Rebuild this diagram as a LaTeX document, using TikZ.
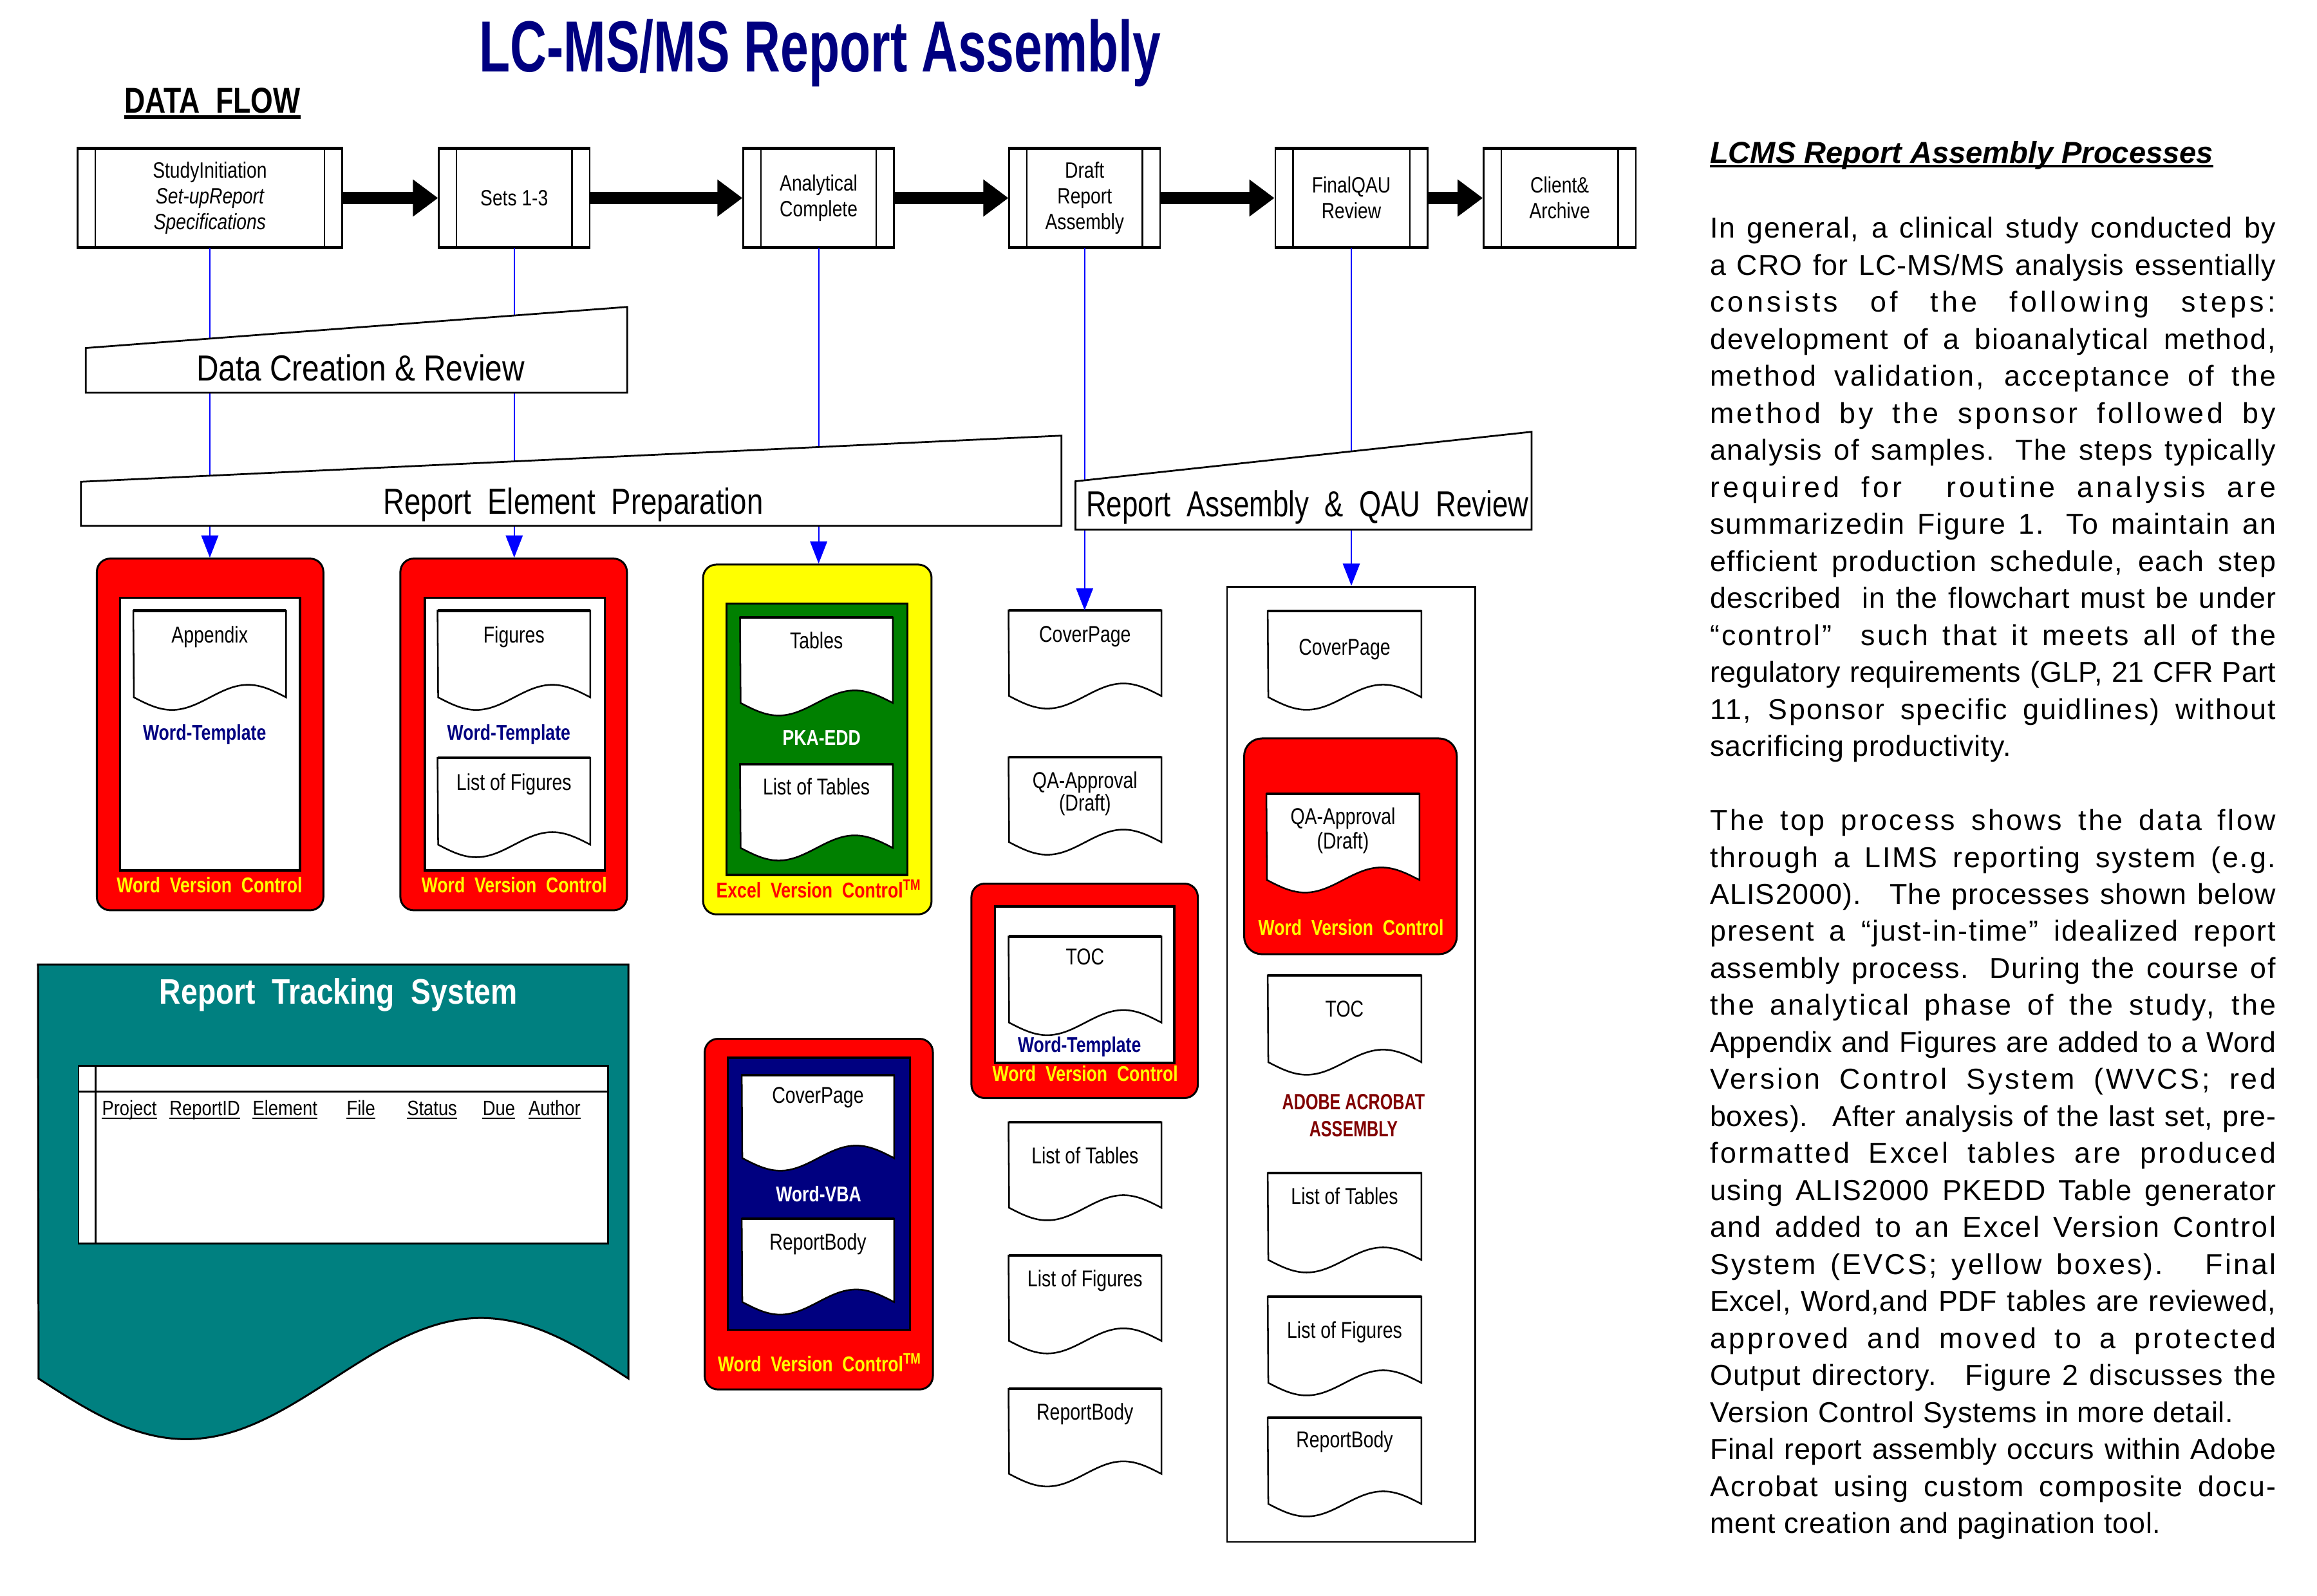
\documentclass[tikz,border=0pt]{standalone}
\usepackage{fontspec}
\setmainfont{Liberation Sans}
\usepackage{graphicx}
\usetikzlibrary{arrows.meta,calc}
\definecolor{navyc}{HTML}{000080}
\definecolor{tealc}{HTML}{008080}
\definecolor{dredc}{HTML}{800000}
\definecolor{dgreenc}{HTML}{008000}
\definecolor{bluec}{HTML}{0000FF}
\definecolor{redc}{HTML}{FF0000}
\definecolor{yellowc}{HTML}{FFFF00}
\newcommand\sqz[2]{\scalebox{#1}[1]{#2}}
\newcommand\fsz[2]{\fontsize{#1}{#2}\selectfont}
\newlength\lwA
\newlength\lwB
\newcommand\jline[1]{%
  \settowidth\lwA{#1}%
  \settowidth\lwB{\addfontfeature{LetterSpace=10}#1}%
  \pgfmathsetmacro\lsv{max(0,min(12,0.65*(\linewidth-\lwA)*10/(\lwB-\lwA)))}%
  \makebox[\linewidth][s]{\addfontfeature{LetterSpace=\lsv}#1}}
\newcommand\lastl[1]{\makebox[\linewidth][l]{\addfontfeature{LetterSpace=2}#1}}
\newcommand\procnode[4]{%
  \node[procbox, minimum width=#3pt] (#1) at (#2,134) {#4};
  \draw[line width=1.1pt] ([xshift=12.5pt]#1.north west) -- ([xshift=12.5pt]#1.south west);
  \draw[line width=1.1pt] ([xshift=-12.5pt]#1.north east) -- ([xshift=-12.5pt]#1.south east);
  \draw[line width=2.2pt] (#1.north west) -- (#1.north east);
  \draw[line width=2.2pt] (#1.south west) -- (#1.south east);
}
% name, cx, top, w, h, amp, baseline offset, text
\newcommand\mkdoc[8]{%
  \node[docnode, minimum width=#4pt, minimum height=#5pt, anchor=north] (#1) at (#2,#3) {};
  \draw[docline] (#1.north west) -- (#1.north east) -- (#1.south east)
     sin ++({-#4/4},{-#6}) cos ++({-#4/4},{#6}) sin ++({-#4/4},{#6}) cos ++({-#4/4},{-#6}) -- cycle;
  \draw[line width=1.8pt] (#1.north west) -- (#1.north east);
  \node[doctext] (#1t) at ($(#1.north)+(0,#7)$) {\sqz{0.8}{#8}};
}
\begin{document}
\begin{tikzpicture}[x=1pt,y=-1pt,
  procbox/.style={draw, line width=1.1pt, fill=white, minimum height=66pt, inner sep=0pt, align=center, font=\fsz{15}{17.5}},
  blockarrow/.style={line width=8pt, -{Triangle[length=17pt,width=24pt]}},
  vcbox/.style={draw, line width=1.3pt, rounded corners=9pt, inner sep=0pt},
  inbox/.style={draw, line width=1.4pt, inner sep=0pt},
  docnode/.style={inner sep=0pt, draw=none},
  docline/.style={draw, fill=white, line width=1.1pt},
  doctext/.style={inner sep=0pt, anchor=base, font=\fsz{15.5}{16}},
  lbl/.style={inner sep=0pt, anchor=base, font=\fsz{14.5}{16}\bfseries},
  flow/.style={draw=bluec, line width=0.9pt, -{Triangle[length=15pt,width=11.5pt]}},
  mshape/.style={draw, fill=white, line width=1.2pt},
  mtext/.style={inner sep=0pt, anchor=base, font=\fsz{24.5}{26}},
  hdr/.style={inner sep=0pt, anchor=base, font=\fsz{14}{16}},
]
\fill[white] (0,0) rectangle (1568,1080);
\useasboundingbox (0,0) rectangle (1568,1080);

% Title
\node[anchor=base, inner sep=0pt, text=navyc, font=\fsz{49}{55}\bfseries] (title) at (555,48.7) {\sqz{0.70}{LC-MS/MS Report Assembly}};
\node[anchor=base, inner sep=0pt, font=\fsz{24.3}{26}\bfseries] (dataflow) at (143.8,76.3) {\sqz{0.8}{DATA\ \ FLOW}};
\draw[line width=2.3pt] ([yshift=-3pt]dataflow.base west) -- ([yshift=-3pt]dataflow.base east);

% Top process boxes
\procnode{b1}{142}{179}{\sqz{0.82}{StudyInitiation}\\\sqz{0.82}{\itshape Set-upReport}\\\sqz{0.82}{\itshape Specifications}}
\procnode{b2}{348}{102}{\sqz{0.82}{Sets 1-3}}
\procnode{b3}{554}{102}{\sqz{0.82}{Analytical}\\\sqz{0.82}{Complete}}
\procnode{b4}{734}{102}{\sqz{0.82}{Draft}\\\sqz{0.82}{Report}\\\sqz{0.82}{Assembly}}
\procnode{b5}{914.5}{103}{\sqz{0.82}{FinalQAU}\\\sqz{0.82}{Review}}
\procnode{b6}{1055.5}{103}{\sqz{0.82}{Client\&}\\\sqz{0.82}{Archive}}
\draw[blockarrow] (b1.east) -- (b2.west);
\draw[blockarrow] (b2.east) -- (b3.west);
\draw[blockarrow] (b3.east) -- (b4.west);
\draw[blockarrow] (b4.east) -- (b5.west);
\draw[blockarrow] (b5.east) -- (b6.west);

% Appendix container
\node[vcbox, fill=redc, minimum width=153.3pt, minimum height=238pt] (app) at (142.2,497) {};
\node[inbox, fill=white, minimum width=121.7pt, minimum height=184.5pt] (appin) at (142.15,496.75) {};
\mkdoc{d1}{141.9}{413.2}{103}{58.3}{8.5}{22}{Appendix}
\node[lbl, text=navyc] (appwt) at (138.4,501) {\sqz{0.8}{Word-Template}};
\node[lbl, text=yellowc] (appwvc) at (141.8,604) {\sqz{0.8}{Word\ \ Version\ \ Control}};

% Figures container
\node[vcbox, fill=redc, minimum width=153.3pt, minimum height=238pt] (fig) at (347.6,497) {};
\node[inbox, fill=white, minimum width=121.7pt, minimum height=184.5pt] (figin) at (348.4,496.75) {};
\mkdoc{d2}{347.8}{413.2}{103}{58.3}{8.5}{22}{Figures}
\node[lbl, text=navyc] (figwt) at (344.3,501) {\sqz{0.8}{Word-Template}};
\mkdoc{d3}{347.8}{512.8}{103}{58.4}{8.5}{22}{List of Figures}
\node[lbl, text=yellowc] (figwvc) at (348,604) {\sqz{0.8}{Word\ \ Version\ \ Control}};

% Excel container
\node[vcbox, fill=yellowc, minimum width=154.6pt, minimum height=236.7pt] (xls) at (553.1,500.4) {};
\node[inbox, fill=dgreenc, minimum width=122.5pt, minimum height=183.7pt] (xlsin) at (552.95,500.25) {};
\mkdoc{d4}{552.5}{417.8}{103}{57.5}{8.5}{21}{Tables}
\node[lbl, text=white] (pka) at (556,504.5) {\sqz{0.8}{PKA-EDD}};
\mkdoc{d5}{552.5}{517}{103}{56.4}{8.5}{21}{List of Tables}
\node[lbl, text=redc] (xlsvc) at (554,607.5) {\sqz{0.8}{Excel\ \ Version\ \ Control\textsuperscript{TM}}};

% Word-VBA container
\node[vcbox, fill=redc, minimum width=154.4pt, minimum height=237.3pt] (vba) at (554.1,821.6) {};
\node[inbox, fill=navyc, minimum width=123.3pt, minimum height=184.2pt] (vbain) at (554.15,807.9) {};
\mkdoc{d6}{553.5}{727.4}{102.7}{55.9}{8.5}{19}{CoverPage}
\node[lbl, text=white] (wvba) at (554,813) {\sqz{0.8}{Word-VBA}};
\mkdoc{d7}{553.5}{824.7}{102.7}{56}{8.5}{21}{ReportBody}
\node[lbl, text=yellowc] (vbavc) at (554.6,928) {\sqz{0.8}{Word\ \ Version\ \ Control\textsuperscript{TM}}};

% Middle column
\mkdoc{m1}{734.25}{413}{103.1}{57.6}{8.5}{21.5}{CoverPage}
\mkdoc{m2}{734.25}{512.4}{103.1}{57.1}{8.5}{21}{QA-Approval}
\node[doctext] (m2b) at ($(m2t.base)+(0,15.5)$) {\sqz{0.8}{(Draft)}};
\node[vcbox, fill=redc, minimum width=153.2pt, minimum height=145.1pt] (tocbox) at (734,670.5) {};
\node[inbox, fill=white, minimum width=121.4pt, minimum height=105.9pt] (tocin) at (734,666.35) {};
\mkdoc{m3}{734.25}{633.7}{103.1}{57.9}{8.5}{19}{TOC}
\node[lbl, text=navyc] (tocwt) at (730.5,712) {\sqz{0.8}{Word-Template}};
\node[lbl, text=yellowc] (tocvc) at (734.4,731.5) {\sqz{0.8}{Word\ \ Version\ \ Control}};
\mkdoc{m4}{734.25}{759.4}{103.1}{57.5}{8.5}{28}{List of Tables}
\mkdoc{m5}{734.25}{849.6}{103.1}{57.4}{8.5}{21}{List of Figures}
\mkdoc{m6}{734.25}{939.8}{103.1}{57.2}{8.5}{21}{ReportBody}

% Right column (Adobe assembly)
\node[draw, line width=1.2pt, minimum width=168pt, minimum height=646.5pt, inner sep=0pt] (big) at (914.4,720.2) {};
\mkdoc{r1}{909.9}{413.5}{103.6}{57.9}{8.5}{30}{CoverPage}
\node[vcbox, fill=redc, rounded corners=12pt, minimum width=143.9pt, minimum height=146pt] (qabox) at (913.9,572.7) {};
\mkdoc{r2}{908.8}{537.2}{103.2}{57.9}{8.5}{20.5}{QA-Approval}
\node[doctext] (r2b) at ($(r2t.base)+(0,16.6)$) {\sqz{0.8}{(Draft)}};
\node[lbl, text=yellowc] (qavc) at (914.3,633) {\sqz{0.8}{Word\ \ Version\ \ Control}};
\mkdoc{r3}{909.9}{660}{103.6}{58.4}{8.5}{28}{TOC}
\node[lbl, text=dredc, font=\fsz{15}{17}\bfseries] (adobe1) at (916,751) {\sqz{0.73}{ADOBE ACROBAT}};
\node[lbl, text=dredc, font=\fsz{15}{17}\bfseries] (adobe2) at (916,769) {\sqz{0.73}{ASSEMBLY}};
\mkdoc{r4}{909.9}{793.8}{103.6}{58.4}{8.5}{21}{List of Tables}
\mkdoc{r5}{909.9}{877.4}{103.6}{58}{8.5}{28}{List of Figures}
\mkdoc{r6}{909.9}{959.3}{103.6}{58}{8.5}{20.5}{ReportBody}

% Blue data-flow connectors
\draw[flow] (b1.south) -- (b1.south |- app.north);
\draw[flow] (b2.south) -- (b2.south |- fig.north);
\draw[flow] (b3.south) -- (b3.south |- xls.north);
\draw[flow] (b4.south) -- (b4.south |- m1.north);
\draw[flow] (b5.south) -- (b5.south |- big.north);

% Manual-input stage shapes
\filldraw[mshape] (58,235.5) -- (424.4,207.7) -- (424.4,265.8) -- (58,265.8) -- cycle;
\node[mtext] (dcr) at (244,257.8) {\sqz{0.85}{Data Creation \& Review}};
\filldraw[mshape] (54.8,326) -- (718.3,294.8) -- (718.3,355.8) -- (54.8,355.8) -- cycle;
\node[mtext] (rep) at (388,348) {\sqz{0.81}{Report\ \ Element\ \ Preparation}};
\filldraw[mshape] (727.8,325.7) -- (1036.5,292.2) -- (1036.5,358.4) -- (727.8,358.4) -- cycle;
\node[mtext] (raq) at (884.8,349.7) {\sqz{0.78}{Report\ \ Assembly\ \ \&\ \ QAU\ \ Review}};

% Report Tracking System
\node[inner sep=0pt, minimum width=399.2pt, minimum height=279.8pt, anchor=north west] (rts) at (25.7,652.7) {};
\draw[fill=tealc, line width=1.3pt] (rts.north west) -- (rts.north east) -- (rts.south east)
   sin ++(-99.8,-41) cos ++(-99.8,41) sin ++(-99.8,41) cos ++(-99.8,-41) -- cycle;
\node[anchor=base, inner sep=0pt, text=white, font=\fsz{24}{26}\bfseries] (rtst) at (229,679.6) {\sqz{0.84}{Report\ \ Tracking\ \ System}};
\node[draw, fill=white, line width=1.3pt, inner sep=0pt, minimum width=358.4pt, minimum height=120.3pt, anchor=north west] (tbl) at (52.5,720.6) {};
\draw[line width=1.2pt] ([xshift=12.3pt]tbl.north west) -- ([xshift=12.3pt]tbl.south west);
\draw[line width=1.2pt] ([yshift=-18.2pt]tbl.north west) -- ([yshift=-18.2pt]tbl.north east);
\foreach \nm/\cx/\tx in {h1/87.6/Project, h2/138.6/ReportID, h3/192.9/Element, h4/244.3/File, h5/292.4/Status, h6/337.6/Due, h7/375.3/Author}{
  \node[hdr] (\nm) at (\cx,755) {\sqz{0.85}{\tx}};
  \draw[line width=0.9pt] ([yshift=-1.8pt]\nm.base west) -- ([yshift=-1.8pt]\nm.base east);
}

% Right-hand text
\node[anchor=base west, inner sep=0pt, font=\fsz{20.5}{24}\bfseries\itshape] (head) at (1157,110.5) {LCMS Report Assembly Processes};
\draw[line width=1.8pt] ([yshift=-2pt]head.base west) -- ([yshift=-2pt]head.base east);
\node[anchor=base west, inner sep=0pt] (body) at (1157,161) {\parbox[t]{383pt}{\fsz{19.5}{25.05}\setlength{\parindent}{0pt}%
\jline{In general, a clinical study conducted by}\\
\jline{a CRO for LC-MS/MS analysis essentially}\\
\jline{consists of the following steps:}\\
\jline{development of a bioanalytical method,}\\
\jline{method validation, acceptance of the}\\
\jline{method by the sponsor followed by}\\
\jline{analysis of samples. The steps typically}\\
\jline{required for \ routine analysis are}\\
\jline{summarizedin Figure 1. To maintain an}\\
\jline{efficient production schedule, each step}\\
\jline{described \ in the flowchart must be under}\\
\jline{“control” \ such that it meets all of the}\\
\jline{regulatory requirements (GLP, 21 CFR Part}\\
\jline{11, Sponsor specific guidlines) without}\\
\lastl{sacrificing productivity.}\\[25.05pt]
\jline{The top process shows the data flow}\\
\jline{through a LIMS reporting system (e.g.}\\
\jline{ALIS2000). \ The processes shown below}\\
\jline{present a “just-in-time” idealized report}\\
\jline{assembly process. During the course of}\\
\jline{the analytical phase of the study, the}\\
\jline{Appendix and Figures are added to a Word}\\
\jline{Version Control System (WVCS; red}\\
\jline{boxes). \ After analysis of the last set, pre-}\\
\jline{formatted Excel tables are produced}\\
\jline{using ALIS2000 PKEDD Table generator}\\
\jline{and added to an Excel Version Control}\\
\jline{System (EVCS; yellow boxes). \ Final}\\
\jline{Excel, Word,and PDF tables are reviewed,}\\
\jline{approved and moved to a protected}\\
\jline{Output directory. \ Figure 2 discusses the}\\
\lastl{Version Control Systems in more detail.}\\
\jline{Final report assembly occurs within Adobe}\\
\jline{Acrobat using custom composite docu-}\\
\lastl{ment creation and pagination tool.}}};
\end{tikzpicture}
\end{document}
